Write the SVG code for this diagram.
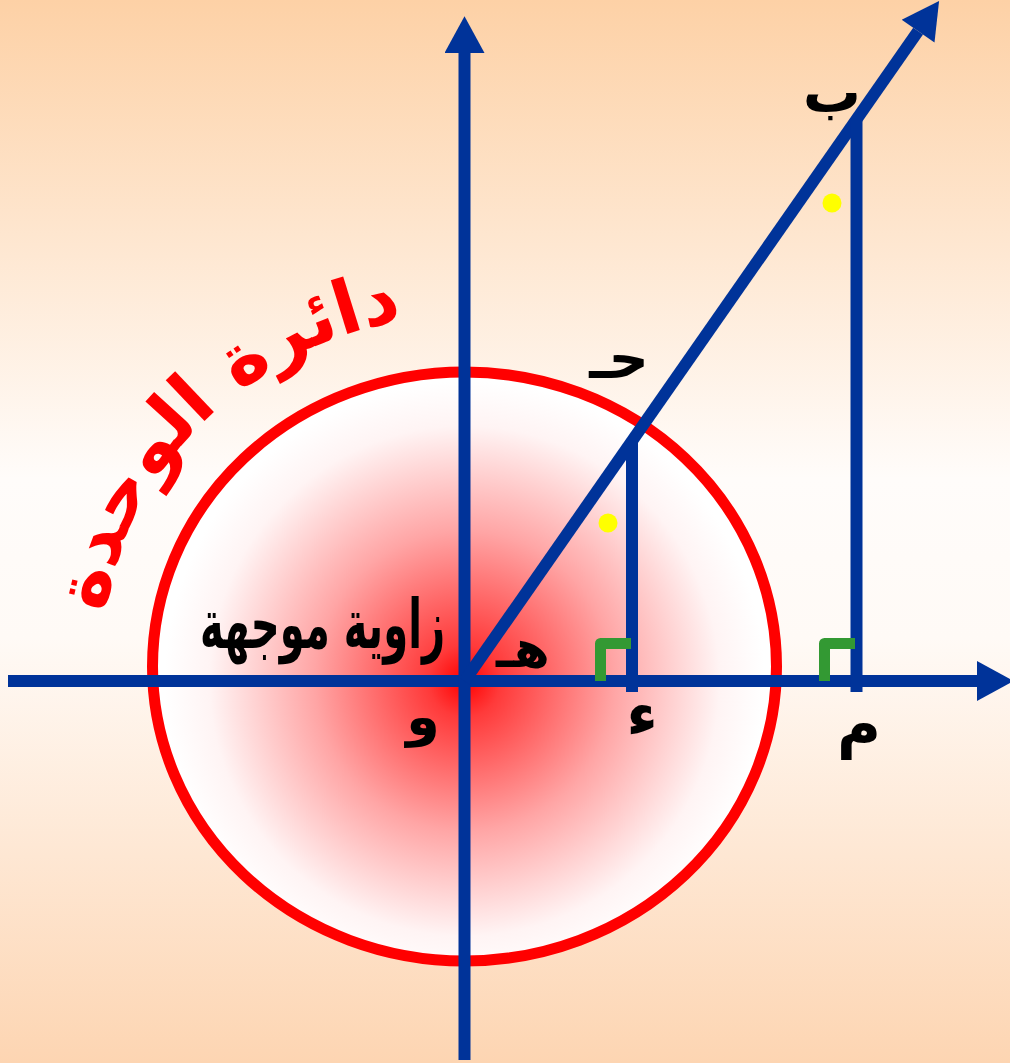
<svg xmlns="http://www.w3.org/2000/svg" width="1010" height="1063" viewBox="0 0 1010 1063">
  <defs>
    <linearGradient id="bg" x1="0" y1="0" x2="0" y2="1">
      <stop offset="0" stop-color="#FDD1A6"/>
      <stop offset="0.45" stop-color="#FFFCFA"/>
      <stop offset="0.6" stop-color="#FFFAF6"/>
      <stop offset="1" stop-color="#FDD5B2"/>
    </linearGradient>
    <radialGradient id="disk" gradientUnits="userSpaceOnUse" cx="464.5" cy="681" r="300">
      <stop offset="0" stop-color="#FF0000"/>
      <stop offset="0.12" stop-color="#FF3A3A"/>
      <stop offset="0.5" stop-color="#FFA5A5"/>
      <stop offset="0.85" stop-color="#FFF4F4"/>
      <stop offset="1" stop-color="#FFFFFF"/>
    </radialGradient>
    <marker id="arrow" markerUnits="userSpaceOnUse" markerWidth="40" markerHeight="40" viewBox="0 -18 33 36" refX="0" refY="0" orient="auto">
      <path d="M0,-18 L33,0 L0,18 Z" fill="#003399"/>
    </marker>
    <path id="arcPath" d="M 100 650 A 365 355 0 0 1 420 318"/>
    <style>
      .axis { stroke: #003399; stroke-width: 12; fill: none; }
      .right { stroke: #339933; stroke-width: 11; fill: none; stroke-linejoin: round; }
      .lbl { font-family: "DejaVu Sans", sans-serif; font-weight: bold; fill: #000; }
      .title { font-family: "DejaVu Sans", sans-serif; font-weight: bold; fill: #FF0000; }
    </style>
  </defs>
  <rect x="0" y="0" width="1010" height="1063" fill="url(#bg)"/>

  <g id="unit-circle">
    <ellipse cx="464.5" cy="666.5" rx="312" ry="294.5" fill="url(#disk)" stroke="#FF0000" stroke-width="11"/>
  </g>

  <g id="connectors">
    <line class="axis" x1="8" y1="681" x2="977" y2="681" marker-end="url(#arrow)"/>
    <line class="axis" x1="464.5" y1="1060" x2="464.5" y2="53" marker-end="url(#arrow)"/>
    <line class="axis" x1="464.5" y1="681" x2="918.1" y2="31.1" marker-end="url(#arrow)"/>
    <line class="axis" x1="632" y1="441" x2="632" y2="692"/>
    <line class="axis" x1="856.5" y1="119" x2="856.5" y2="692"/>
  </g>

  <g id="right-angle-1"><path class="right" d="M600.5 681 V643.5 H631"/></g>
  <g id="right-angle-2"><path class="right" d="M824.5 681 V643.5 H855"/></g>

  <g id="dot-1"><circle cx="608" cy="523" r="9.5" fill="#FFFF00"/></g>
  <g id="dot-2"><circle cx="832" cy="203" r="9.5" fill="#FFFF00"/></g>

  <g id="title">
    <text class="title" font-size="74"><textPath href="#arcPath" startOffset="52%" text-anchor="middle">دائرة الوحدة</textPath></text>
  </g>

  <g id="label-angle">
    <text class="lbl" x="445" y="648" font-size="68" text-anchor="end" textLength="245" lengthAdjust="spacingAndGlyphs">زاوية موجهة</text>
  </g>
  <g id="label-h"><text class="lbl" x="523" y="667" font-size="52" text-anchor="middle">هـ</text></g>
  <g id="label-w"><text class="lbl" x="423" y="735" font-size="54" text-anchor="middle">و</text></g>
  <g id="label-hamza"><text class="lbl" x="642" y="736" font-size="62" text-anchor="middle">ء</text></g>
  <g id="label-m"><text class="lbl" x="859" y="745" font-size="60" text-anchor="middle">م</text></g>
  <g id="label-b"><text class="lbl" x="832" y="112" font-size="58" text-anchor="middle">ب</text></g>
  <g id="label-j"><text class="lbl" x="619" y="378" font-size="56" text-anchor="middle">حـ</text></g>
</svg>
